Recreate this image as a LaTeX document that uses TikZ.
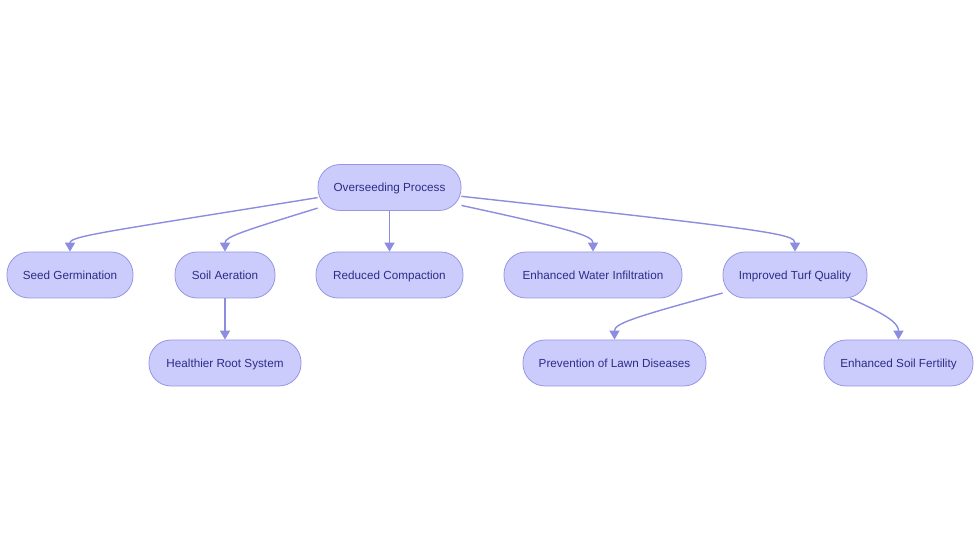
\documentclass[tikz,border=0pt]{standalone}
\usepackage{fontspec}
\setmainfont{Liberation Sans}
\usetikzlibrary{arrows.meta}
\definecolor{nodefill}{RGB}{204,204,252}
\definecolor{nodedraw}{RGB}{150,150,228}
\definecolor{edgecol}{RGB}{140,140,224}
\definecolor{textcol}{RGB}{44,44,136}
\tikzset{
  box/.style={draw=nodedraw, fill=nodefill, line width=0.8pt, rounded corners=22pt,
    minimum height=46pt, inner xsep=0pt, inner ysep=0pt, text height=10pt, text depth=1.6pt,
    text=textcol, font=\fontsize{11.7}{13}\selectfont},
  edge/.style={draw=edgecol, line width=1.4pt, -{Triangle[width=10pt,length=9pt]}}
}
\begin{document}
\begin{tikzpicture}[x=1pt,y=-1pt]
\useasboundingbox (0,0) rectangle (980,553);
\node[box, minimum width=143pt] (ov) at (389.5,187.5) {Overseeding Process};
\node[box, minimum width=126pt] (sg) at (70,275) {Seed Germination};
\node[box, minimum width=100pt] (sa) at (225,275) {Soil Aeration};
\node[box, minimum width=147pt] (rc) at (389.5,275) {Reduced Compaction};
\node[box, minimum width=178pt] (wi) at (593,275) {Enhanced Water Infiltration};
\node[box, minimum width=144pt] (tq) at (795,275) {Improved Turf Quality};
\node[box, minimum width=152pt] (hr) at (225,363) {Healthier Root System};
\node[box, minimum width=183pt] (pl) at (614.5,363) {Prevention of Lawn Diseases};
\node[box, minimum width=149pt] (sf) at (898.5,363) {Enhanced Soil Fertility};

\draw[edge] (ov.188.4) .. controls (105,232) and (70,236) .. (sg.north);
\draw[edge] (ov.196) .. controls (240,232) and (225,237) .. (sa.north);
\draw[edge] (ov.south) -- (rc.north);
\draw[edge] (ov.346) .. controls (575,230) and (593,236) .. (wi.north);
\draw[edge] (ov.353) .. controls (770,230) and (795,234) .. (tq.north);
\draw[edge] (sa.south) -- (hr.north);
\draw[edge] (tq.194) .. controls (630,318) and (614.5,324) .. (pl.north);
\draw[edge] (tq.337) .. controls (890,316) and (898.5,324) .. (sf.north);
\end{tikzpicture}
\end{document}
